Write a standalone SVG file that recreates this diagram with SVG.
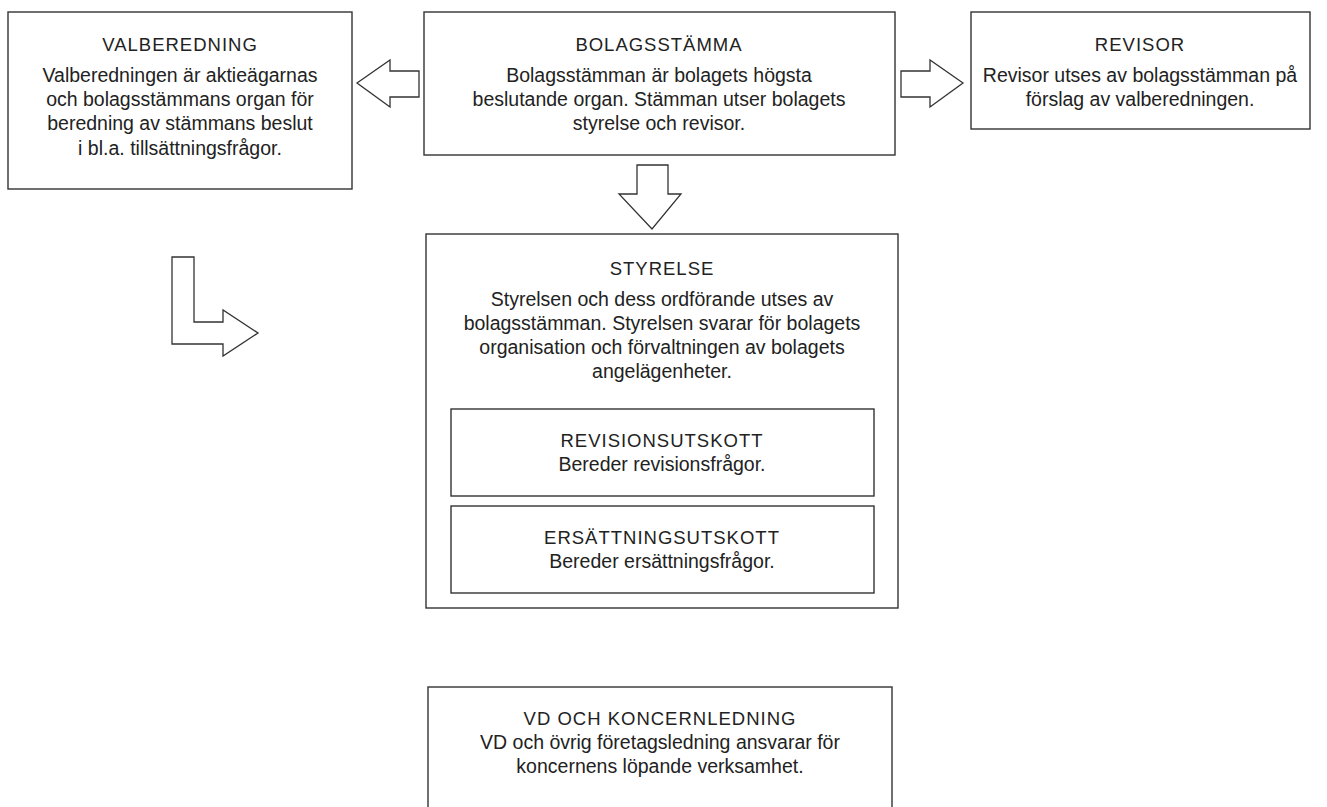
<svg xmlns="http://www.w3.org/2000/svg" width="1327" height="807" viewBox="0 0 1327 807">
<style>
  .box { fill: #fff; stroke: #333; stroke-width: 1.4; }
  .arrow { fill: #fff; stroke: #333; stroke-width: 1.3; stroke-linejoin: miter; }
  .h { font-family: "Liberation Sans", Arial, sans-serif; font-size: 18.5px; letter-spacing: 1px; fill: #222; text-anchor: middle; }
  .t { font-family: "Liberation Sans", Arial, sans-serif; font-size: 19.5px; fill: #222; text-anchor: middle; }
</style>
<rect width="1327" height="807" fill="#fff"/>
<g id="connectors">
  <polygon class="arrow" points="357,83 390,60 390,71 419,71 419,97 390,97 390,107"/>
  <polygon class="arrow" points="963,83 930,60 930,71 901,71 901,97 930,97 930,107"/>
  <polygon class="arrow" points="637,165 668,165 668,194 681,194 652,229 619,194 637,194"/>
  <polygon class="arrow" points="172,257 194,257 194,322 223,322 223,310 258,333 223,356 223,344 172,344"/>
</g>
<g id="valberedning">
  <rect class="box" x="8" y="12" width="344" height="177"/>
  <text class="h" x="180" y="51">VALBEREDNING</text>
  <text class="t" x="180" y="82">Valberedningen är aktieägarnas</text>
  <text class="t" x="180" y="106">och bolagsstämmans organ för</text>
  <text class="t" x="180" y="130">beredning av stämmans beslut</text>
  <text class="t" x="180" y="155">i bl.a. tillsättningsfrågor.</text>
</g>
<g id="bolagsstamma">
  <rect class="box" x="424" y="12" width="471" height="143"/>
  <text class="h" x="659" y="51">BOLAGSSTÄMMA</text>
  <text class="t" x="659" y="82">Bolagsstämman är bolagets högsta</text>
  <text class="t" x="659" y="106">beslutande organ. Stämman utser bolagets</text>
  <text class="t" x="659" y="130">styrelse och revisor.</text>
</g>
<g id="revisor">
  <rect class="box" x="971" y="12" width="339" height="117"/>
  <text class="h" x="1140" y="51">REVISOR</text>
  <text class="t" x="1140" y="82">Revisor utses av bolagsstämman på</text>
  <text class="t" x="1140" y="106">förslag av valberedningen.</text>
</g>
<g id="styrelse">
  <rect class="box" x="426" y="234" width="472" height="374"/>
  <text class="h" x="662" y="275">STYRELSE</text>
  <text class="t" x="662" y="306">Styrelsen och dess ordförande utses av</text>
  <text class="t" x="662" y="330">bolagsstämman. Styrelsen svarar för bolagets</text>
  <text class="t" x="662" y="354">organisation och förvaltningen av bolagets</text>
  <text class="t" x="662" y="378">angelägenheter.</text>
</g>
<g id="revisionsutskott">
  <rect class="box" x="451" y="409" width="423" height="87"/>
  <text class="h" x="662" y="447">REVISIONSUTSKOTT</text>
  <text class="t" x="662" y="471">Bereder revisionsfrågor.</text>
</g>
<g id="ersattningsutskott">
  <rect class="box" x="451" y="506" width="423" height="87"/>
  <text class="h" x="662" y="544">ERSÄTTNINGSUTSKOTT</text>
  <text class="t" x="662" y="568">Bereder ersättningsfrågor.</text>
</g>
<g id="vd">
  <rect class="box" x="428" y="687" width="464" height="140"/>
  <text class="h" x="660" y="725">VD OCH KONCERNLEDNING</text>
  <text class="t" x="660" y="749">VD och övrig företagsledning ansvarar för</text>
  <text class="t" x="660" y="773">koncernens löpande verksamhet.</text>
</g>
</svg>
